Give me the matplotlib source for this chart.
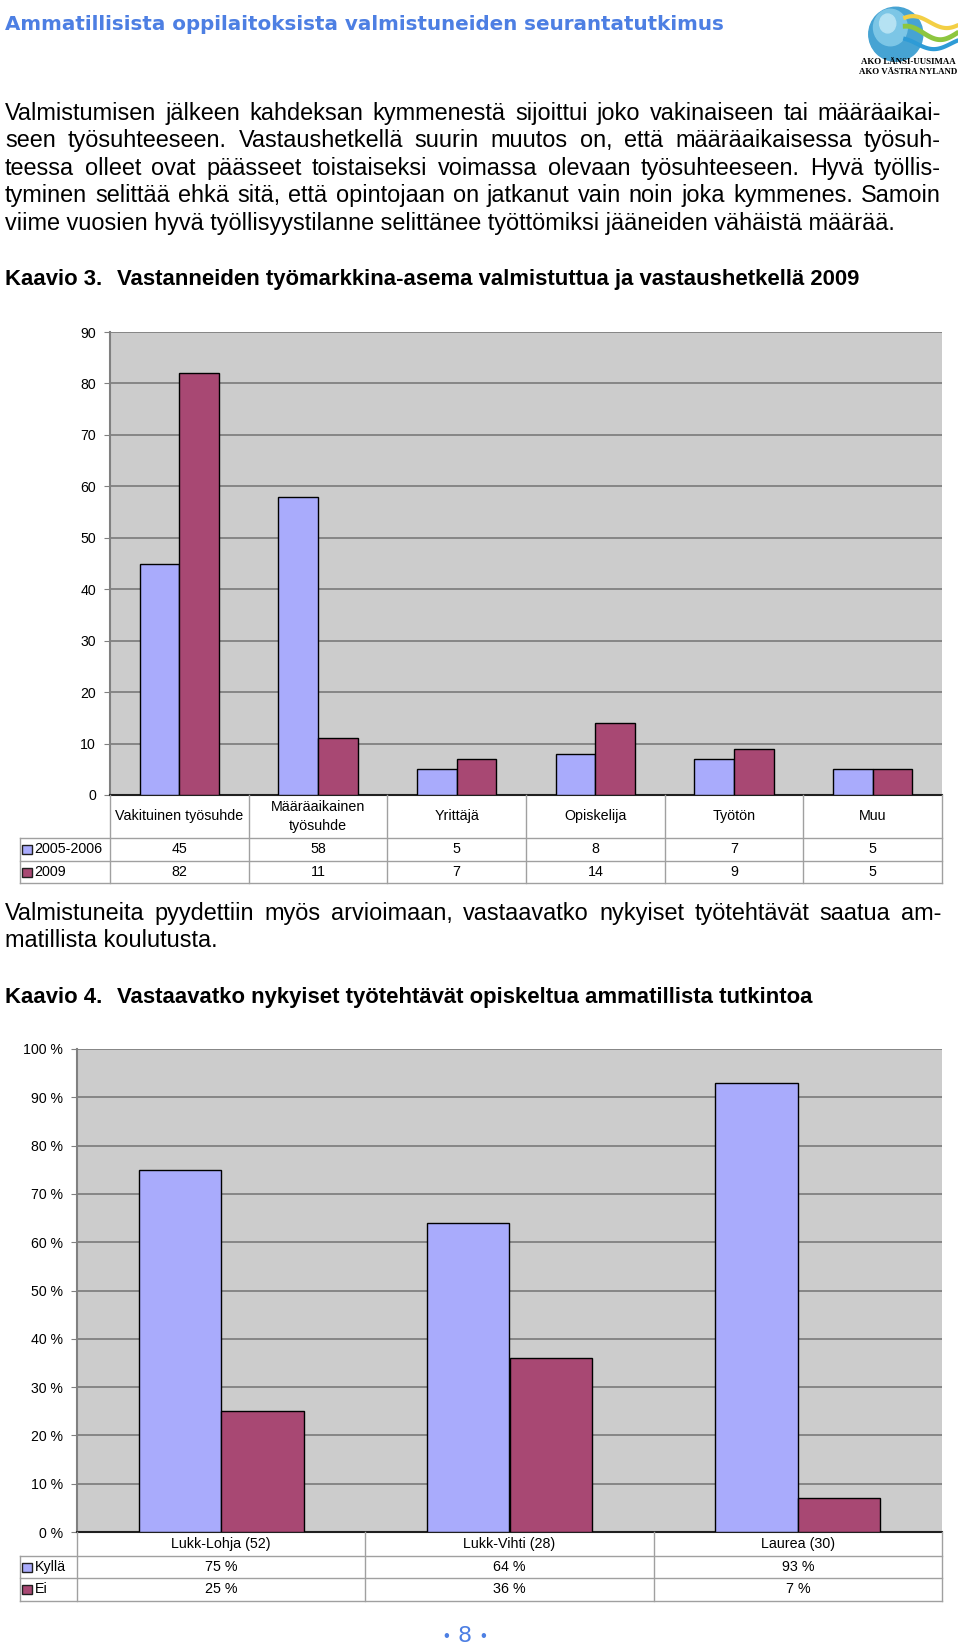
import numpy as np
import matplotlib.pyplot as plt
import matplotlib.transforms as mtransforms
from matplotlib.patches import Rectangle, Circle, Ellipse
from matplotlib.lines import Line2D
from matplotlib.ticker import FuncFormatter

# --- data ---------------------------------------------------------------
page_title = 'Ammatillisista oppilaitoksista valmistuneiden seurantatutkimus'

para1 = [
    'Valmistumisen jälkeen kahdeksan kymmenestä sijoittui joko vakinaiseen tai määräaikai-',
    'seen työsuhteeseen. Vastaushetkellä suurin muutos on, että määräaikaisessa työsuh-',
    'teessa olleet ovat päässeet toistaiseksi voimassa olevaan työsuhteeseen. Hyvä työllis-',
    'tyminen selittää ehkä sitä, että opintojaan on jatkanut vain noin joka kymmenes. Samoin',
    'viime vuosien hyvä työllisyystilanne selittänee työttömiksi jääneiden vähäistä määrää.',
]
para2 = [
    'Valmistuneita pyydettiin myös arvioimaan, vastaavatko nykyiset työtehtävät saatua am-',
    'matillista koulutusta.',
]
fig3_title = 'Vastanneiden työmarkkina-asema valmistuttua ja vastaushetkellä 2009'
fig4_title = 'Vastaavatko nykyiset työtehtävät opiskeltua ammatillista tutkintoa'

jobs_categories = ['Vakituinen työsuhde', 'Määräaikainen\ntyösuhde', 'Yrittäjä',
                   'Opiskelija', 'Työtön', 'Muu']
jobs_series = ['2005-2006', '2009']
jobs_2005 = [45, 58, 5, 8, 7, 5]
jobs_2009 = [82, 11, 7, 14, 9, 5]

match_categories = ['Lukk-Lohja (52)', 'Lukk-Vihti (28)', 'Laurea (30)']
match_series = ['Kyllä', 'Ei']
match_yes = [75, 64, 93]
match_no = [25, 36, 7]

# --- styling ------------------------------------------------------------
W, H, DPI = 960, 1647, 100
BLUE = '#A9ABFC'
RED = '#A84873'
PLOT_BG = '#CCCCCC'
GRID = '#7A7A7A'
TABLE_LINE = '#A0A0A0'
TITLE_BLUE = '#4D7FE3'
FONT = ['Liberation Sans', 'DejaVu Sans']
TABLE_FS = 10.3

plt.rcParams['font.family'] = FONT

fig = plt.figure(figsize=(W / DPI, H / DPI), dpi=DPI)
renderer = fig.canvas.get_renderer()


def fx(x):
    return x / W


def fy(y):
    return 1 - y / H


def base(y, size):
    # baseline (pixels from top) for a line whose visual centre is at y
    return y + 0.26 * size * DPI / 72


def text_width(s, **kw):
    t = fig.text(0, 0, s, **kw)
    w = t.get_window_extent(renderer).width
    t.remove()
    return w


def fit_size(s, target, **kw):
    return 10 * target / text_width(s, fontsize=10, **kw)


def draw_line(s, y, x0, x1, justify, fontsize, **kw):
    yb = fy(base(y, fontsize))
    words = s.split(' ')
    if not justify or len(words) == 1:
        fig.text(fx(x0), yb, s, ha='left', va='baseline', fontsize=fontsize, **kw)
        return
    widths = [text_width(w, fontsize=fontsize, **kw) for w in words]
    gap = (x1 - x0 - sum(widths)) / (len(words) - 1)
    x = x0
    for w, wd in zip(words, widths):
        fig.text(fx(x), yb, w, ha='left', va='baseline', fontsize=fontsize, **kw)
        x += wd + gap


# --- header -------------------------------------------------------------
ts = fit_size(page_title, 717, family='DejaVu Sans', weight='bold')
fig.text(fx(5), fy(base(25, ts)), page_title, family='DejaVu Sans', weight='bold',
         fontsize=ts, color=TITLE_BLUE, ha='left', va='baseline')

logo = fig.add_axes([fx(866), fy(64), fx(92), 60 / H])
logo.set_xlim(-1.1, 2.3)
logo.set_ylim(-1.1, 1.12)
logo.set_aspect('equal')
logo.axis('off')
logo.add_patch(Circle((0, 0), 1.0, color='#46A3D3'))
logo.add_patch(Ellipse((-0.2, 0.25), 1.25, 1.35, color='#7CC6E6'))
logo.add_patch(Ellipse((-0.3, 0.4), 0.6, 0.7, color='#B5E2F3'))
wx = np.linspace(0.35, 2.25, 60)
logo.plot(wx, 0.45 + 0.22 * np.sin(wx * 2.5), color='#F3CF45', lw=3)
logo.plot(wx, 0.05 + 0.25 * np.sin(wx * 2.5 + 0.6), color='#8DC63F', lw=3.5)
logo.plot(wx, -0.35 + 0.2 * np.sin(wx * 2.5 + 1.2), color='#2E9BD6', lw=3)
fig.text(fx(908), fy(62), 'AKO LÄNSI-UUSIMAA', family='Liberation Serif',
         weight='bold', fontsize=6.4, ha='center', va='center')
fig.text(fx(908), fy(71.5), 'AKO VÄSTRA NYLAND', family='Liberation Serif',
         weight='bold', fontsize=6.4, ha='center', va='center')

# --- body text ----------------------------------------------------------
bs = fit_size(para1[-1], 891)
for i, line in enumerate(para1):
    draw_line(line, 113.5 + 27.6 * i, 5, 941, i < len(para1) - 1, bs)
for i, line in enumerate(para2):
    draw_line(line, 914 + 27.3 * i, 5, 941, i < len(para2) - 1, bs)

hs = fit_size(fig3_title, 741, weight='bold')
for y, title in [(279, fig3_title), (997, fig4_title)]:
    num = 'Kaavio 3.' if y < 500 else 'Kaavio 4.'
    fig.text(fx(5), fy(base(y, hs)), num, weight='bold', fontsize=hs,
             ha='left', va='baseline')
    fig.text(fx(117), fy(base(y, hs)), title, weight='bold', fontsize=hs,
             ha='left', va='baseline')


# --- charts -------------------------------------------------------------
def bar_chart(left, right, top, bottom, cats, s1, s2, ymax, step, fmt):
    ax = fig.add_axes([fx(left), fy(bottom), fx(right - left), (bottom - top) / H])
    n = len(cats)
    x = np.arange(n)
    bw = 1 / 3.5
    ax.bar(x - bw / 2, s1, bw, color=BLUE, edgecolor='black', linewidth=1, zorder=3)
    ax.bar(x + bw / 2, s2, bw, color=RED, edgecolor='black', linewidth=1, zorder=3)
    ax.set_xlim(-0.5, n - 0.5)
    ax.set_ylim(0, ymax)
    ax.set_yticks(np.arange(0, ymax + 1, step))
    ax.yaxis.set_major_formatter(FuncFormatter(fmt))
    ax.set_xticks([])
    ax.set_facecolor(PLOT_BG)
    ax.yaxis.grid(True, color=GRID, linewidth=1.2)
    ax.set_axisbelow(True)
    for side in ['top', 'right']:
        ax.spines[side].set_visible(False)
    ax.spines['left'].set_color('#808080')
    ax.spines['left'].set_linewidth(1.5)
    ax.spines['bottom'].set_color('#202020')
    ax.spines['bottom'].set_linewidth(1.5)
    ax.tick_params(axis='y', length=4, color='#808080', labelsize=10.2, pad=6)
    return ax


def data_table(ax, cats, series, rows, y_top, row_edges, fmt):
    n = len(cats)
    trans = mtransforms.blended_transform_factory(ax.transData, fig.transFigure)
    y_end = row_edges[-1]
    for b in np.arange(n + 1) - 0.5:
        fig.add_artist(Line2D([b, b], [fy(y_top), fy(y_end)], transform=trans,
                              color=TABLE_LINE, linewidth=1))
    fig.add_artist(Line2D([fx(20), fx(20)], [fy(row_edges[0]), fy(y_end)],
                          transform=fig.transFigure, color=TABLE_LINE, linewidth=1))
    for ye in row_edges:
        fig.add_artist(Line2D([fx(20), fx(942)], [fy(ye), fy(ye)],
                              transform=fig.transFigure, color=TABLE_LINE, linewidth=1))
    cat_y = (y_top + row_edges[0]) / 2
    for i, c in enumerate(cats):
        if '\n' in c:
            fig.text(i, fy(cat_y), c, transform=trans, ha='center', va='center',
                     fontsize=TABLE_FS, linespacing=1.45)
        else:
            fig.text(i, fy(base(cat_y, TABLE_FS)), c, transform=trans, ha='center',
                     va='baseline', fontsize=TABLE_FS)
    colors = [BLUE, RED]
    for r, (name, vals) in enumerate(zip(series, rows)):
        yc = (row_edges[r] + row_edges[r + 1]) / 2
        yb = fy(base(yc, TABLE_FS))
        fig.add_artist(Rectangle((fx(21.5), fy(yc + 4.5)), 10 / W, 9 / H,
                                 transform=fig.transFigure, facecolor=colors[r],
                                 edgecolor='#202020', linewidth=1))
        fig.text(fx(34.5), yb, name, ha='left', va='baseline', fontsize=TABLE_FS)
        for i, v in enumerate(vals):
            fig.text(i, yb, fmt(v), transform=trans, ha='center', va='baseline',
                     fontsize=TABLE_FS)


ax1 = bar_chart(110, 942, 332, 795, jobs_categories, jobs_2005, jobs_2009,
                90, 10, lambda v, p: f'{v:.0f}')
data_table(ax1, jobs_categories, jobs_series, [jobs_2005, jobs_2009],
           795, [838, 861, 883], lambda v: f'{v}')

ax2 = bar_chart(77, 942, 1049, 1532, match_categories, match_yes, match_no,
                100, 10, lambda v, p: f'{v:.0f} %')
data_table(ax2, match_categories, match_series, [match_yes, match_no],
           1532, [1556, 1578, 1601], lambda v: f'{v} %')

# --- page number --------------------------------------------------------
fig.text(fx(464.5), fy(1636), '8', color=TITLE_BLUE, fontsize=16,
         ha='center', va='center', family='DejaVu Sans')
fig.text(fx(446.5), fy(1636), '•', color=TITLE_BLUE, fontsize=12, ha='center', va='center')
fig.text(fx(483), fy(1636), '•', color=TITLE_BLUE, fontsize=12, ha='center', va='center')

fig.savefig('out.png', dpi=DPI)
